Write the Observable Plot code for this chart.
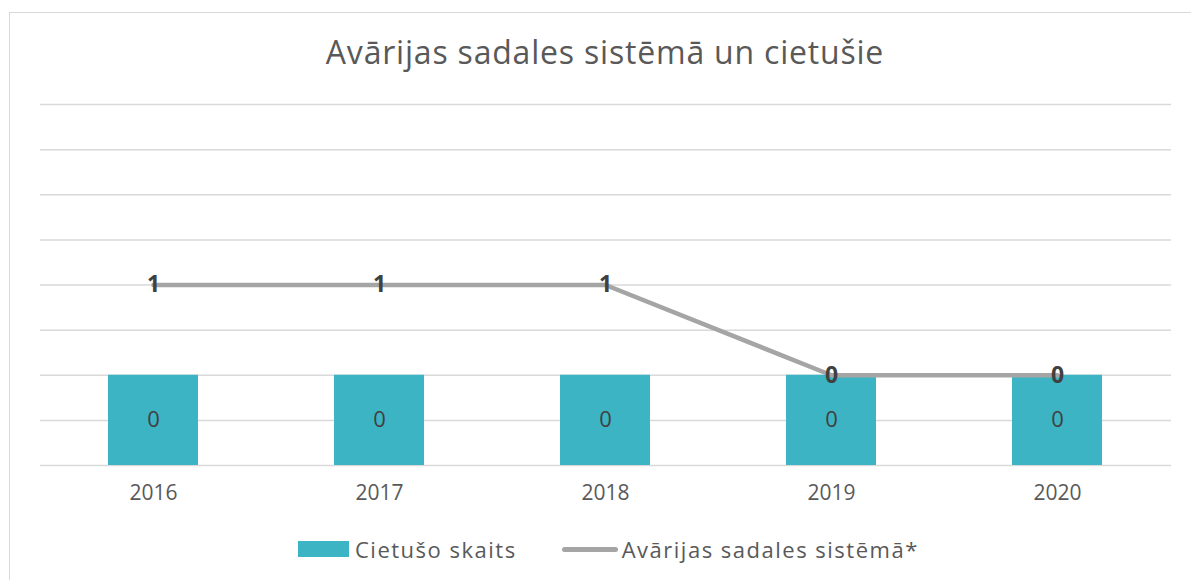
<!DOCTYPE html>
<html>
<head>
<meta charset="utf-8">
<script src="https://cdn.jsdelivr.net/npm/d3@7"></script>
<script src="https://cdn.jsdelivr.net/npm/@observablehq/plot@0.6"></script>
<style>
  body { margin: 0; background: #fff; font-family: "Open Sans", sans-serif; }
  #wrap { position: relative; width: 1191px; height: 580px; overflow: hidden; background: #fff; }
  #frame { position: absolute; left: 9px; top: 12px; width: 1300px; height: 700px; border: 1.5px solid #d9d9d9; box-sizing: border-box; }
  #title { position: absolute; left: 0; width: 1210px; top: 30px; text-align: center; font-size: 32px; color: #595959; font-weight: 400; letter-spacing: 0.8px; }
  #chart { position: absolute; left: 0; top: 0; }
  #legend { position: absolute; top: 534px; left: 298px; display: flex; align-items: center; font-size: 22px; color: #595959; letter-spacing: 1.5px; }
  .sw-bar { width: 51px; height: 16px; background: #3DB4C3; margin-right: 6px; }
  .sw-line { width: 56px; height: 5px; background: #A5A5A5; border-radius: 3px; margin-right: 4px; margin-left: 45px; }
</style>
</head>
<body>
<div id="wrap">
  <div id="frame"></div>
  <div id="chart"></div>
  <div id="title">Avārijas sadales sistēmā un cietušie</div>
  <div id="legend">
    <div class="sw-bar"></div><span>Cietušo skaits</span>
    <div class="sw-line"></div><span>Avārijas sadales sistēmā*</span>
  </div>
</div>
<script>
const years = ["2016", "2017", "2018", "2019", "2020"];
const injured = [0, 0, 0, 0, 0];          // Cietušo skaits
const accidents = [1, 1, 1, 0, 0];        // Avārijas sadales sistēmā*
const gridTicks = [-1, -0.5, 0, 0.5, 1, 1.5, 2, 2.5, 3];
const axisMin = -1;

const barData = years.map((y, i) => ({year: y, value: injured[i]}));
const lineData = years.map((y, i) => ({year: y, value: accidents[i]}));

const chart = Plot.plot({
  width: 1191,
  height: 580,
  marginLeft: 40,
  marginRight: 20,
  marginTop: 104,
  marginBottom: 115,
  style: {background: "transparent", fontFamily: "Open Sans, sans-serif"},
  x: {type: "band", domain: years, paddingInner: 0.6, paddingOuter: 0.3, label: null},
  y: {domain: [-1, 3], axis: null},
  marks: [
    Plot.ruleY(gridTicks, {stroke: "#d9d9d9", strokeWidth: 1.5}),
    Plot.barY(barData, {x: "year", y1: axisMin, y2: "value", fill: "#3DB4C3"}),
    Plot.text(barData, {x: "year", y: d => (axisMin + d.value) / 2, text: d => String(d.value), fill: "#404040", fontSize: 22}),
    Plot.line(lineData, {x: "year", y: "value", stroke: "#A5A5A5", strokeWidth: 4.5}),
    Plot.text(lineData, {x: "year", y: "value", text: d => String(d.value), fill: "#404040", fontSize: 23, fontWeight: "bold"}),
    Plot.axisX({tickSize: 0, tickPadding: 20, fontSize: 21, color: "#595959", label: null, style: {letterSpacing: "0.8px"}})
  ]
});
document.getElementById("chart").appendChild(chart);
</script>
</body>
</html>
